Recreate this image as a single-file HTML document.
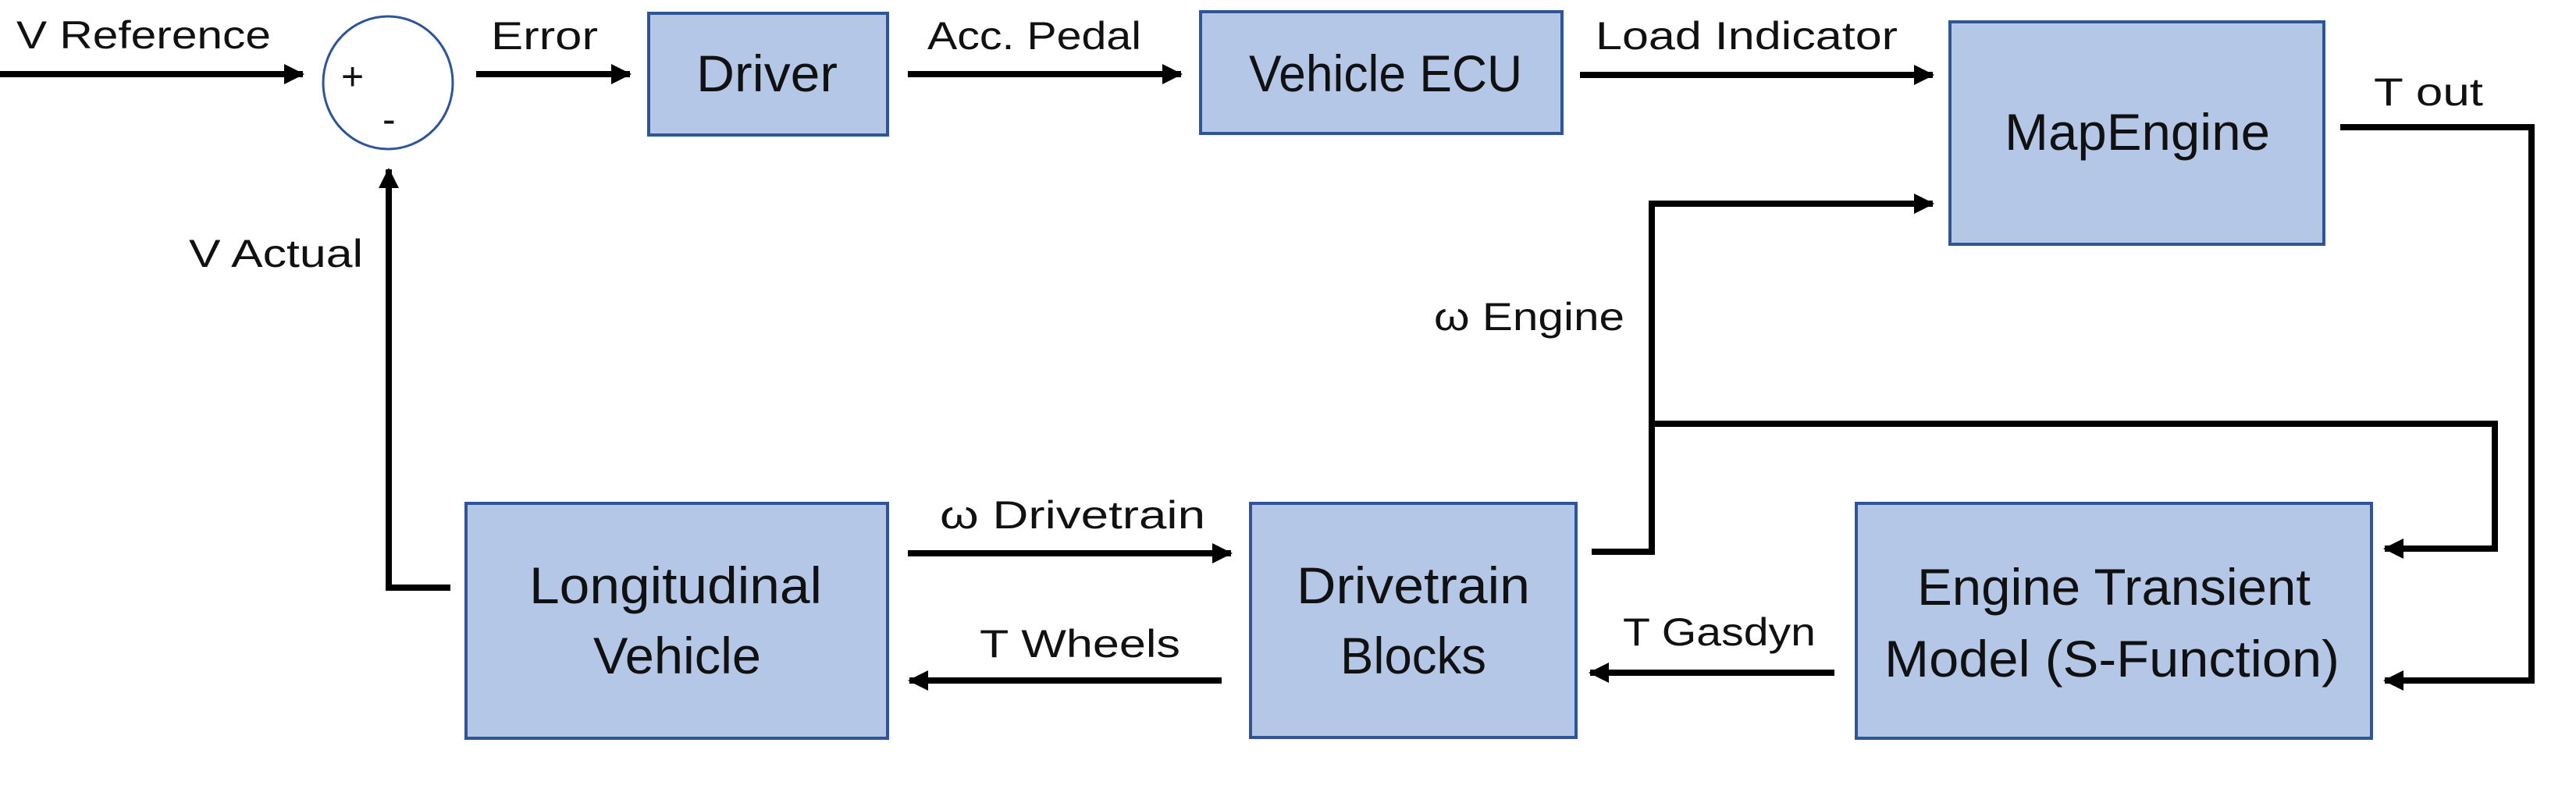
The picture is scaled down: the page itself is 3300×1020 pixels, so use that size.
<!DOCTYPE html>
<html><head><meta charset="utf-8"><style>
html,body{margin:0;padding:0;background:#fff;}
svg{display:block;}
text{font-family:"Liberation Sans",sans-serif;fill:#111;}
</style></head><body>
<svg width="3300" height="1020" viewBox="0 0 3300 1020" xmlns="http://www.w3.org/2000/svg">
<defs>
<marker id="ah" markerWidth="26" markerHeight="26" refX="24" refY="13" orient="auto" markerUnits="userSpaceOnUse">
<path d="M0,0 L26,13 L0,26 Z" fill="#000"/>
</marker>
</defs>
<g fill="#b4c7e7" stroke="#2f5597" stroke-width="4">
<rect x="831" y="17" width="306" height="156"/>
<rect x="1538" y="15" width="463" height="156"/>
<rect x="2498" y="28" width="479" height="285"/>
<rect x="597" y="645" width="540" height="301"/>
<rect x="1602" y="645" width="417" height="300"/>
<rect x="2378" y="645" width="660" height="301"/>
</g>
<ellipse cx="497" cy="106" rx="83" ry="85" fill="#fff" stroke="#2f5597" stroke-width="3"/>
<g stroke="#000" stroke-width="8" fill="none">
<line x1="0" y1="95" x2="388" y2="95" marker-end="url(#ah)"/>
<line x1="610" y1="95" x2="807" y2="95" marker-end="url(#ah)"/>
<line x1="1163" y1="95" x2="1513" y2="95" marker-end="url(#ah)"/>
<line x1="2024" y1="96" x2="2476" y2="96" marker-end="url(#ah)"/>
<polyline points="577,753 498,753 498,217" marker-end="url(#ah)"/>
<line x1="1163" y1="709" x2="1577" y2="709" marker-end="url(#ah)"/>
<line x1="1565" y1="872" x2="1165" y2="872" marker-end="url(#ah)"/>
<line x1="2350" y1="862" x2="2037" y2="862" marker-end="url(#ah)"/>
<polyline points="2039,707 2116,707 2116,261 2476,261" marker-end="url(#ah)"/>
<polyline points="2116,543 3196,543 3196,703 3055,703" marker-end="url(#ah)"/>
<polyline points="2998,163 3243,163 3243,872 3055,872" marker-end="url(#ah)"/>
</g>
<g font-size="50">
<text x="21" y="62" textLength="326" lengthAdjust="spacingAndGlyphs">V Reference</text>
<text x="629" y="63" textLength="137" lengthAdjust="spacingAndGlyphs">Error</text>
<text x="1188" y="63" textLength="274" lengthAdjust="spacingAndGlyphs">Acc. Pedal</text>
<text x="2044" y="63" textLength="387" lengthAdjust="spacingAndGlyphs">Load Indicator</text>
<text x="3041" y="135" textLength="140" lengthAdjust="spacingAndGlyphs">T out</text>
<text x="242" y="342" textLength="223" lengthAdjust="spacingAndGlyphs">V Actual</text>
<text x="1837" y="423" textLength="244" lengthAdjust="spacingAndGlyphs">ω Engine</text>
<text x="1204" y="677" textLength="340" lengthAdjust="spacingAndGlyphs">ω Drivetrain</text>
<text x="1255" y="842" textLength="257" lengthAdjust="spacingAndGlyphs">T Wheels</text>
<text x="2079" y="827" textLength="247" lengthAdjust="spacingAndGlyphs">T Gasdyn</text>
<text x="437" y="115">+</text>
<text x="490" y="170">-</text>
</g>
<g font-size="66">
<text x="892" y="117" textLength="181" lengthAdjust="spacingAndGlyphs">Driver</text>
<text x="1600" y="117" textLength="350" lengthAdjust="spacingAndGlyphs">Vehicle ECU</text>
<text x="2568" y="192" textLength="340" lengthAdjust="spacingAndGlyphs">MapEngine</text>
<text x="678" y="773" textLength="375" lengthAdjust="spacingAndGlyphs">Longitudinal</text>
<text x="760" y="863" textLength="215" lengthAdjust="spacingAndGlyphs">Vehicle</text>
<text x="1661" y="773" textLength="299" lengthAdjust="spacingAndGlyphs">Drivetrain</text>
<text x="1717" y="863" textLength="187" lengthAdjust="spacingAndGlyphs">Blocks</text>
<text x="2456" y="775" textLength="504" lengthAdjust="spacingAndGlyphs">Engine Transient</text>
<text x="2414" y="867" textLength="583" lengthAdjust="spacingAndGlyphs">Model (S-Function)</text>
</g>
</svg>
</body></html>
